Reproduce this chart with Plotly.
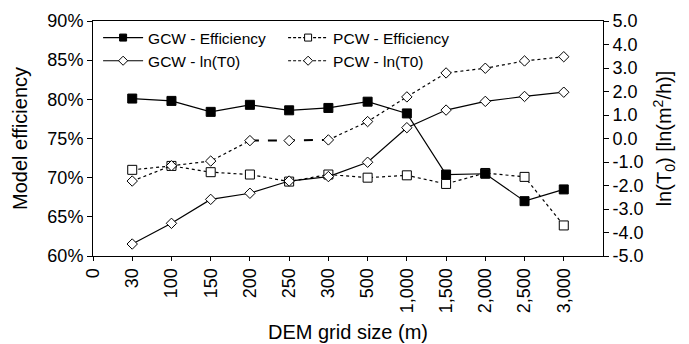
import plotly.graph_objects as go

categories = ["0", "30", "100", "150", "200", "250", "300", "500", "1,000", "1,500", "2,000", "2,500", "3,000"]
gcw_eff = [80.1, 79.8, 78.4, 79.3, 78.6, 78.9, 79.7, 78.2, 70.4, 70.5, 67.0, 68.5]
pcw_eff = [71.0, 71.5, 70.7, 70.4, 69.5, 70.4, 70.0, 70.3, 69.2, 70.6, 70.1, 63.9]
gcw_ln = [-4.49, -3.61, -2.59, -2.33, -1.81, -1.62, -1.01, 0.46, 1.21, 1.58, 1.79, 1.97]
pcw_ln = [-1.81, -1.16, -0.96, -0.09, -0.09, -0.06, 0.72, 1.77, 2.79, 2.99, 3.30, 3.48]
left_ticks = [60, 65, 70, 75, 80, 85, 90]
right_ticks = [-5, -4, -3, -2, -1, 0, 1, 2, 3, 4, 5]

xi = list(range(1, len(categories)))
FONT = "Liberation Sans, Arial, sans-serif"

fig = go.Figure()

# data traces
fig.add_trace(go.Scatter(x=xi, y=pcw_eff, mode="lines+markers", showlegend=False,
                         line=dict(color="black", width=1.2, dash="dot"),
                         marker=dict(symbol="square", size=9, color="white", line=dict(color="black", width=1))))
# PCW ln: dotted parts, dashed middle part
fig.add_trace(go.Scatter(x=xi[:4], y=pcw_ln[:4], mode="lines", yaxis="y2", showlegend=False,
                         line=dict(color="black", width=1.2, dash="dot")))
fig.add_trace(go.Scatter(x=xi[3:6], y=pcw_ln[3:6], mode="lines", yaxis="y2", showlegend=False,
                         line=dict(color="black", width=2, dash="dash")))
fig.add_trace(go.Scatter(x=xi[5:], y=pcw_ln[5:], mode="lines", yaxis="y2", showlegend=False,
                         line=dict(color="black", width=1.2, dash="dot")))
fig.add_trace(go.Scatter(x=xi, y=pcw_ln, mode="markers", yaxis="y2", showlegend=False,
                         marker=dict(symbol="diamond", size=8, color="white", line=dict(color="black", width=1))))
fig.add_trace(go.Scatter(x=xi, y=gcw_ln, mode="lines+markers", yaxis="y2", showlegend=False,
                         line=dict(color="black", width=1.2),
                         marker=dict(symbol="diamond", size=8, color="white", line=dict(color="black", width=1))))
fig.add_trace(go.Scatter(x=xi, y=gcw_eff, mode="lines+markers", showlegend=False,
                         line=dict(color="black", width=1.2),
                         marker=dict(symbol="square", size=9, color="black", line=dict(color="black", width=1))))

# legend entries
leg = [("GCW - Efficiency", "solid", "square", "black", 7),
       ("PCW - Efficiency", "3px,2px", "square", "white", 7),
       ("GCW - ln(T0)", "solid", "diamond", "white", 7),
       ("PCW - ln(T0)", "3px,2px", "diamond", "white", 7)]
for name, dash, sym, fill, sz in leg:
    fig.add_trace(go.Scatter(x=[None], y=[None], mode="lines+markers", name=name,
                             line=dict(color="black", width=1.2, dash=dash),
                             marker=dict(symbol=sym, size=sz, color=fill, line=dict(color="black", width=1))))

fig.update_layout(
    width=689, height=344,
    margin=dict(l=93, r=86, t=21, b=88),
    plot_bgcolor="white", paper_bgcolor="white",
    font=dict(family=FONT, size=16, color="black"),
    showlegend=True,
    legend=dict(orientation="h", x=0.01, y=1.0, xanchor="left", yanchor="top",
                entrywidth=130, entrywidthmode="pixels", bgcolor="rgba(0,0,0,0)",
                font=dict(size=15.5, family=FONT), tracegroupgap=0, itemwidth=40),
    xaxis=dict(range=[0, 13], tickmode="array", tickvals=list(range(len(categories))), ticktext=categories,
               tickangle=-90, showgrid=False, zeroline=False, showline=True, linecolor="black", linewidth=1,
               mirror=True, ticks="outside", ticklen=4, tickcolor="black", automargin=False,
               tickfont=dict(size=18, family=FONT),
               title=dict(text="DEM grid size (m)", font=dict(size=20, family=FONT), standoff=12)),
    yaxis=dict(range=[60, 90], tickmode="array", tickvals=left_ticks, ticktext=[f"{v}%" for v in left_ticks],
               showgrid=False, zeroline=False, showline=True, linecolor="black", linewidth=1, automargin=False,
               ticks="outside", ticklen=5, tickcolor="black", tickfont=dict(size=18, family=FONT),
               title=dict(text="Model efficiency", font=dict(size=20, family=FONT), standoff=14)),
    yaxis2=dict(range=[-5, 5], overlaying="y", side="right", tickmode="array", tickvals=right_ticks,
                ticktext=[f"{v:.1f}" for v in right_ticks], automargin=False,
                showgrid=False, zeroline=False, showline=True, linecolor="black", linewidth=1,
                ticks="outside", ticklen=5, tickcolor="black", tickfont=dict(size=18, family=FONT),
                title=dict(text="ln(T<sub>0</sub>) [ln(m<sup>2</sup>/h)]", font=dict(size=20, family=FONT), standoff=14)),
)

fig.write_html("out.html")
